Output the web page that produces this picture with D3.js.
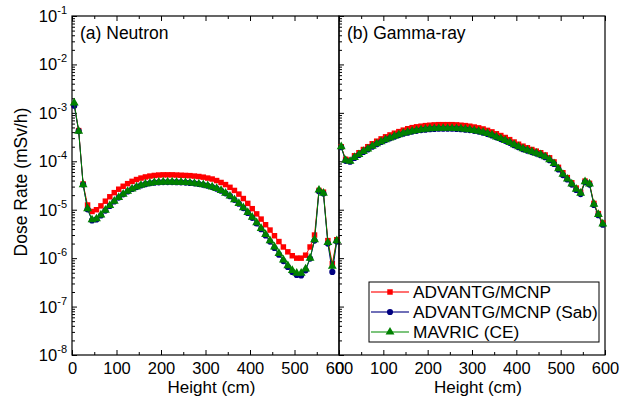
<!DOCTYPE html>
<html>
<head>
<meta charset="utf-8">
<script src="https://cdn.jsdelivr.net/npm/d3@7"></script>
<style>
  body { margin: 0; background: #fff; }
  svg { display: block; }
  text { font-family: "Liberation Sans", Arial, sans-serif; fill: #000; }
</style>
</head>
<body>
<svg id="chart" width="631" height="401"></svg>
<script>
// Tally positions along the height (cm)
const heightCm = [5,15,25,35,45,55,65,75,85,95,105,115,125,135,145,155,165,175,185,195,
  205,215,225,235,245,255,265,275,285,295,305,315,325,335,345,355,365,375,385,395,
  405,415,425,435,445,455,465,475,485,495,505,515,525,535,545,555,565,575,585,595];

// Neutron dose rate (mSv/h)
const neutronMcnp = [1.45e-3,4.3e-4,3.4e-5,1.25e-5,9.2e-6,1.0e-5,1.2e-5,1.5e-5,1.85e-5,2.25e-5,
  2.65e-5,3.05e-5,3.45e-5,3.85e-5,4.2e-5,4.5e-5,4.75e-5,4.95e-5,5.1e-5,5.2e-5,
  5.25e-5,5.25e-5,5.25e-5,5.2e-5,5.15e-5,5.1e-5,5.05e-5,4.95e-5,4.85e-5,4.7e-5,
  4.5e-5,4.3e-5,4.0e-5,3.65e-5,3.3e-5,2.9e-5,2.5e-5,2.1e-5,1.7e-5,1.35e-5,
  1.05e-5,8.2e-6,6.4e-6,4.9e-6,3.8e-6,2.9e-6,2.2e-6,1.7e-6,1.35e-6,1.12e-6,
  1.0e-6,1.0e-6,1.15e-6,1.7e-6,3.0e-6,2.5e-5,2.3e-5,2.3e-6,7.7e-7,2.4e-6];
const neutronSab = [1.4e-3,4.2e-4,3.3e-5,1.02e-5,6.0e-6,6.3e-6,7.6e-6,9.6e-6,1.2e-5,1.48e-5,
  1.78e-5,2.08e-5,2.38e-5,2.68e-5,2.93e-5,3.17e-5,3.37e-5,3.52e-5,3.62e-5,3.68e-5,
  3.72e-5,3.72e-5,3.72e-5,3.7e-5,3.67e-5,3.63e-5,3.58e-5,3.5e-5,3.4e-5,3.28e-5,
  3.12e-5,2.93e-5,2.72e-5,2.47e-5,2.18e-5,1.9e-5,1.6e-5,1.33e-5,1.08e-5,8.6e-6,
  6.8e-6,5.2e-6,3.95e-6,2.95e-6,2.2e-6,1.62e-6,1.18e-6,8.7e-7,6.6e-7,5.2e-7,
  4.5e-7,4.4e-7,5.6e-7,9.8e-7,2.3e-6,2.4e-5,2.15e-5,2.0e-6,5.2e-7,2.2e-6];
const neutronMavric = [1.6e-3,4.2e-4,3.3e-5,1.05e-5,6.2e-6,6.5e-6,7.8e-6,9.8e-6,1.22e-5,1.5e-5,
  1.8e-5,2.1e-5,2.4e-5,2.7e-5,2.95e-5,3.2e-5,3.4e-5,3.55e-5,3.65e-5,3.72e-5,
  3.75e-5,3.75e-5,3.75e-5,3.72e-5,3.7e-5,3.65e-5,3.6e-5,3.52e-5,3.42e-5,3.3e-5,
  3.15e-5,2.95e-5,2.75e-5,2.5e-5,2.2e-5,1.92e-5,1.62e-5,1.35e-5,1.1e-5,8.8e-6,
  7.0e-6,5.4e-6,4.1e-6,3.1e-6,2.3e-6,1.7e-6,1.25e-6,9.2e-7,7.0e-7,5.6e-7,
  4.9e-7,4.9e-7,6.0e-7,1.0e-6,2.4e-6,2.55e-5,2.2e-5,2.1e-6,6.8e-7,2.3e-6];

// Gamma-ray dose rate (mSv/h)
const gammaMcnp = [2.0e-4,1.1e-4,1.05e-4,1.3e-4,1.5e-4,1.75e-4,2.0e-4,2.3e-4,2.6e-4,2.9e-4,
  3.2e-4,3.5e-4,3.8e-4,4.1e-4,4.4e-4,4.7e-4,4.95e-4,5.15e-4,5.3e-4,5.45e-4,
  5.55e-4,5.65e-4,5.7e-4,5.7e-4,5.7e-4,5.7e-4,5.65e-4,5.55e-4,5.45e-4,5.3e-4,
  5.1e-4,4.9e-4,4.65e-4,4.35e-4,4.05e-4,3.7e-4,3.4e-4,3.1e-4,2.8e-4,2.5e-4,
  2.25e-4,2.05e-4,1.9e-4,1.75e-4,1.62e-4,1.5e-4,1.35e-4,1.18e-4,9.7e-5,7.5e-5,
  5.8e-5,4.6e-5,3.6e-5,2.8e-5,2.3e-5,3.9e-5,3.5e-5,1.35e-5,8.3e-6,5.3e-6];
const gammaSab = [1.95e-4,1.02e-4,9.8e-5,1.17e-4,1.35e-4,1.56e-4,1.76e-4,2.0e-4,2.25e-4,2.5e-4,
  2.74e-4,2.98e-4,3.22e-4,3.47e-4,3.7e-4,3.9e-4,4.1e-4,4.25e-4,4.4e-4,4.5e-4,
  4.6e-4,4.65e-4,4.7e-4,4.7e-4,4.7e-4,4.7e-4,4.65e-4,4.6e-4,4.5e-4,4.4e-4,
  4.25e-4,4.1e-4,3.9e-4,3.67e-4,3.42e-4,3.13e-4,2.88e-4,2.64e-4,2.4e-4,2.15e-4,
  1.96e-4,1.78e-4,1.66e-4,1.55e-4,1.44e-4,1.34e-4,1.21e-4,1.05e-4,8.8e-5,6.8e-5,
  5.2e-5,4.2e-5,3.3e-5,2.55e-5,2.1e-5,3.7e-5,3.3e-5,1.25e-5,7.7e-6,4.9e-6];
const gammaMavric = [2.0e-4,1.05e-4,1.0e-4,1.2e-4,1.38e-4,1.6e-4,1.8e-4,2.05e-4,2.3e-4,2.55e-4,
  2.8e-4,3.05e-4,3.3e-4,3.55e-4,3.8e-4,4.0e-4,4.2e-4,4.35e-4,4.5e-4,4.6e-4,
  4.7e-4,4.75e-4,4.8e-4,4.8e-4,4.8e-4,4.8e-4,4.75e-4,4.7e-4,4.6e-4,4.5e-4,
  4.35e-4,4.2e-4,4.0e-4,3.75e-4,3.5e-4,3.2e-4,2.95e-4,2.7e-4,2.45e-4,2.2e-4,
  2.0e-4,1.82e-4,1.7e-4,1.58e-4,1.47e-4,1.37e-4,1.24e-4,1.08e-4,9.0e-5,7.0e-5,
  5.4e-5,4.3e-5,3.4e-5,2.65e-5,2.2e-5,3.8e-5,3.4e-5,1.3e-5,8.0e-6,5.1e-6];

const seriesNames = ["ADVANTG/MCNP", "ADVANTG/MCNP (Sab)", "MAVRIC (CE)"];
const panelTitles = ["(a) Neutron", "(b) Gamma-ray"];
const xTickValues = [0, 100, 200, 300, 400, 500, 600];
const xMinorValues = [50, 150, 250, 350, 450, 550];
const yExponents = [-8, -7, -6, -5, -4, -3, -2, -1];

// ---- drawing ----
const svg = d3.select("#chart");
const plotTop = 16, plotBottom = 355;
const seriesStyle = [
  { color: "#ff0000", legendLine: "#ff4040", shape: d3.symbolSquare, size: 30 },
  { color: "#000080", legendLine: "#4040a0", shape: d3.symbolCircle, size: 30 },
  { color: "#008000", legendLine: "#50b050", shape: d3.symbolTriangle, size: 34 }
];

const panels = [
  { title: panelTitles[0], left: 72, right: 339, series: [neutronMcnp, neutronSab, neutronMavric], yLabels: true },
  { title: panelTitles[1], left: 339, right: 605, series: [gammaMcnp, gammaSab, gammaMavric], yLabels: false }
];

const y = d3.scaleLog().domain([1e-8, 1e-1]).range([plotBottom, plotTop]);
const yMinor = [];
yExponents.slice(0, -1).forEach(e => { for (let m = 2; m <= 9; m++) yMinor.push(m * Math.pow(10, e)); });

panels.forEach(p => {
  const x = d3.scaleLinear().domain([0, 600]).range([p.left, p.right]);
  const g = svg.append("g");

  // bottom axis with labels, ticks pointing inward
  const bx = g.append("g").attr("transform", `translate(0,${plotBottom})`)
    .call(d3.axisBottom(x).tickValues(xTickValues).tickSizeInner(-5).tickSizeOuter(0).tickPadding(7).tickFormat(d3.format("d")));
  bx.selectAll("text").attr("font-size", 16.5).attr("dy", "0.71em");
  g.append("g").attr("transform", `translate(0,${plotBottom})`)
    .call(d3.axisBottom(x).tickValues(xMinorValues).tickSizeInner(-3).tickSizeOuter(0).tickFormat(""));

  // top axis, ticks only
  g.append("g").attr("transform", `translate(0,${plotTop})`)
    .call(d3.axisTop(x).tickValues(xTickValues).tickSizeInner(-5).tickSizeOuter(0).tickFormat(""));
  g.append("g").attr("transform", `translate(0,${plotTop})`)
    .call(d3.axisTop(x).tickValues(xMinorValues).tickSizeInner(-3).tickSizeOuter(0).tickFormat(""));

  // left axis with inward ticks
  g.append("g").attr("transform", `translate(${p.left},0)`)
    .call(d3.axisLeft(y).tickValues(yExponents.map(e => Math.pow(10, e))).tickSizeInner(-5).tickSizeOuter(0).tickFormat(""));
  g.append("g").attr("transform", `translate(${p.left},0)`)
    .call(d3.axisLeft(y).tickValues(yMinor).tickSizeInner(-3).tickSizeOuter(0).tickFormat(""));

  if (p.yLabels) {
    yExponents.forEach(e => {
      const t = g.append("text").attr("x", p.left - 5).attr("y", y(Math.pow(10, e)) + 6)
        .attr("text-anchor", "end").attr("font-size", 16.5);
      t.append("tspan").text("10");
      t.append("tspan").attr("font-size", 11).attr("dy", -8).text(String(e));
    });
  }
  g.selectAll(".domain").remove();
  g.selectAll("g").attr("font-family", null);
  g.selectAll(".tick line").attr("stroke", "#000");

  // frame
  g.append("rect").attr("x", p.left).attr("y", plotTop).attr("width", p.right - p.left).attr("height", plotBottom - plotTop)
    .attr("fill", "none").attr("stroke", "#000").attr("stroke-width", 1.2);

  // series: lines then markers
  const line = d3.line().x((d, i) => x(heightCm[i])).y(d => y(d));
  p.series.forEach((vals, si) => {
    const st = seriesStyle[si];
    g.append("path").datum(vals).attr("d", line).attr("fill", "none")
      .attr("stroke", st.color).attr("stroke-width", 1);
    g.append("g").selectAll("path").data(vals).join("path")
      .attr("transform", (d, i) => `translate(${x(heightCm[i])},${y(d)})`)
      .attr("d", d3.symbol().type(st.shape).size(st.size)())
      .attr("fill", st.color);
  });

  // panel title and axis title
  g.append("text").attr("x", p.left + 8).attr("y", 39).attr("font-size", 17.5).text(p.title);
  g.append("text").attr("x", (p.left + p.right) / 2 + 6).attr("y", 393).attr("text-anchor", "middle")
    .attr("font-size", 17).text("Height (cm)");
});

// y axis title
svg.append("text").attr("transform", `translate(27,${182}) rotate(-90)`)
  .attr("text-anchor", "middle").attr("font-size", 17.5).text("Dose Rate (mSv/h)");

// legend
const lg = svg.append("g").attr("transform", "translate(369,282)");
lg.append("rect").attr("width", 230).attr("height", 60).attr("fill", "#fff").attr("stroke", "#000").attr("stroke-width", 1);
seriesNames.forEach((name, i) => {
  const st = seriesStyle[i];
  const cy = 10 + i * 20;
  lg.append("line").attr("x1", 2).attr("x2", 40).attr("y1", cy).attr("y2", cy)
    .attr("stroke", st.legendLine).attr("stroke-width", 1.3);
  lg.append("path").attr("transform", `translate(21,${cy})`)
    .attr("d", d3.symbol().type(st.shape).size(st.size)()).attr("fill", st.color);
  lg.append("text").attr("x", 44).attr("y", cy + 6).attr("font-size", 17.3).text(name);
});
</script>
</body>
</html>
